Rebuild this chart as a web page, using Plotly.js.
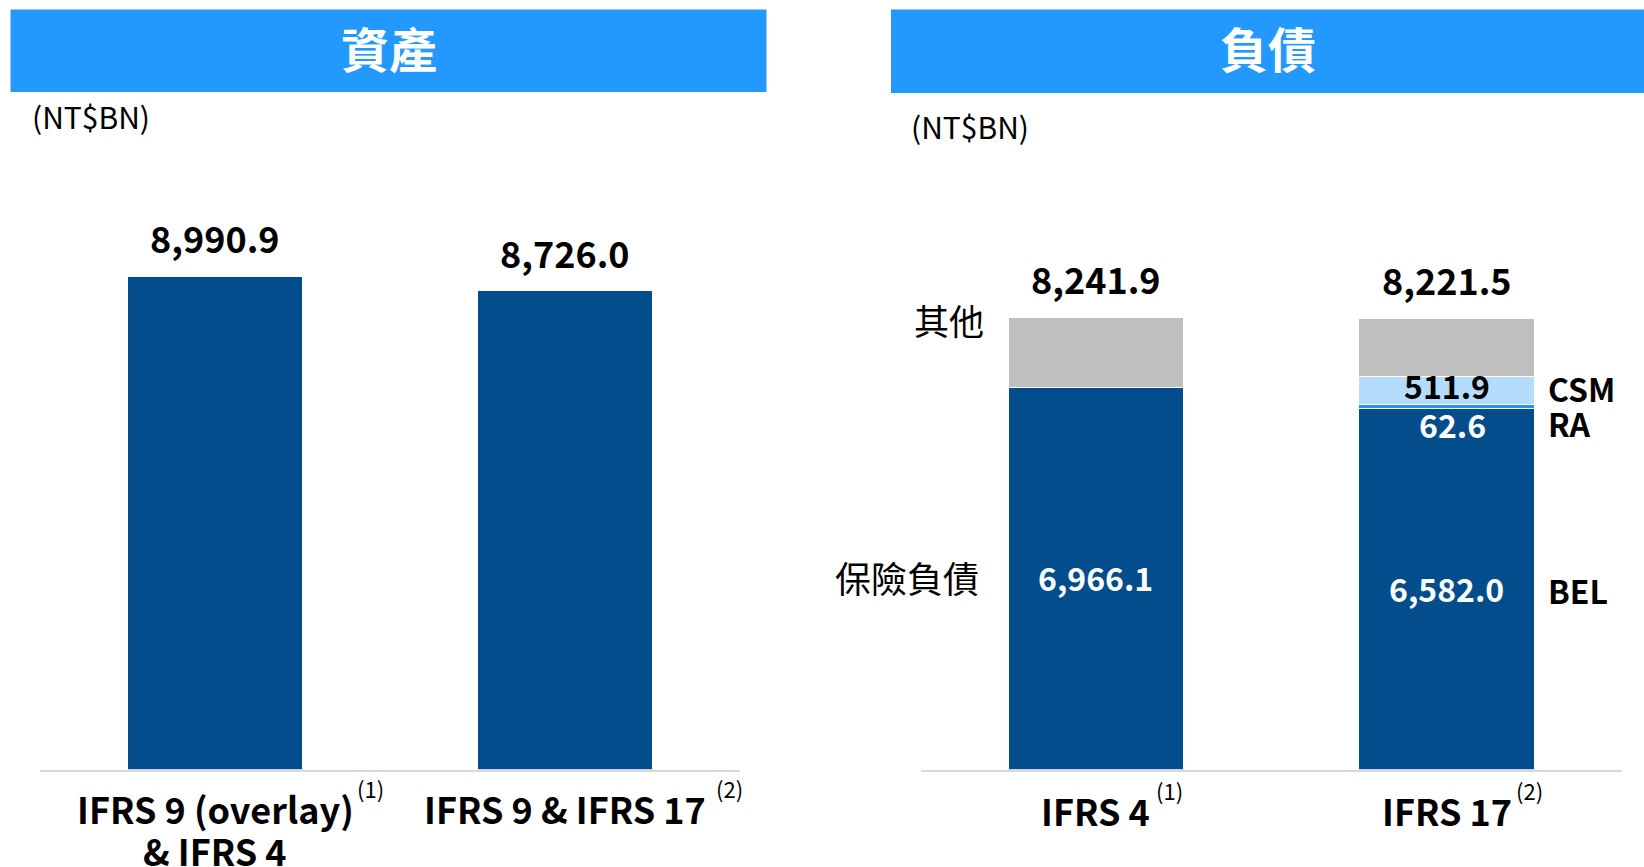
<!DOCTYPE html>
<html>
<head>
<meta charset="utf-8">
<script src="https://cdn.plot.ly/plotly-3.0.1.min.js"></script>
<style>
  html, body { margin: 0; padding: 0; background: #ffffff; }
  #chart { width: 1644px; height: 867px; }
</style>
</head>
<body>
<div id="chart"></div>
<script>
// ---------- data ----------
const panelTitles = ['資產', '負債'];
const unitLabel = '(NT$BN)';

const assetCategories = ['IFRS 9 (overlay) & IFRS 4', 'IFRS 9 & IFRS 17'];
const assetTickLabels = [['IFRS 9 (overlay)', '& IFRS 4'], ['IFRS 9 & IFRS 17']];
const assetNotes = ['(1)', '(2)'];
const assetValues = [8990.9, 8726.0];

const liabCategories = ['IFRS 4', 'IFRS 17'];
const liabTickLabels = ['IFRS 4', 'IFRS 17'];
const liabNotes = ['(1)', '(2)'];
const liabTotals = [8241.9, 8221.5];
const liabBEL = [6966.1, 6582.0];
const liabRA = [null, 62.6];
const liabCSM = [null, 511.9];
const liabOther = [1275.8, 1065.0];

const segmentNames = ['BEL', 'RA', 'CSM', '其他'];
const sideLabelsLeft = ['其他', '保險負債'];
const sideLabelsRight = ['CSM', 'RA', 'BEL'];

// ---------- styling ----------
const W = 1644, H = 867;
const FONT = "'Noto Sans CJK TC', 'Noto Sans', sans-serif";
const DARK = '#044D8C';
const GRAY = '#BFBFBF';
const LIGHT = '#B5DCFB';
const RACOL = '#2196F3';
const HEAD = '#2399FE';

const px = x => x / W;
const py = y => 1 - y / H;
const fmt = v => v.toLocaleString('en-US', {minimumFractionDigits: 1, maximumFractionDigits: 1});

const barLine = {color: '#ffffff', width: 1};

const traces = [
  {type: 'bar', x: assetCategories, y: assetValues, xaxis: 'x', yaxis: 'y',
   marker: {color: DARK, line: barLine}, hoverinfo: 'skip', showlegend: false},
  {type: 'bar', name: segmentNames[0], x: liabCategories, y: liabBEL, xaxis: 'x2', yaxis: 'y2',
   marker: {color: DARK, line: barLine}, hoverinfo: 'skip', showlegend: false},
  {type: 'bar', name: segmentNames[1], x: liabCategories, y: liabRA, xaxis: 'x2', yaxis: 'y2',
   marker: {color: RACOL, line: barLine}, hoverinfo: 'skip', showlegend: false},
  {type: 'bar', name: segmentNames[2], x: liabCategories, y: liabCSM, xaxis: 'x2', yaxis: 'y2',
   marker: {color: LIGHT, line: barLine}, hoverinfo: 'skip', showlegend: false},
  {type: 'bar', name: segmentNames[3], x: liabCategories, y: liabOther, xaxis: 'x2', yaxis: 'y2',
   marker: {color: GRAY, line: barLine}, hoverinfo: 'skip', showlegend: false}
];

const annotations = [];
const shapes = [];

// headers
shapes.push({type: 'rect', xref: 'paper', yref: 'paper', x0: px(10.5), x1: px(766.5), y0: py(92), y1: py(9.5),
             fillcolor: HEAD, line: {width: 0}, layer: 'below'});
shapes.push({type: 'rect', xref: 'paper', yref: 'paper', x0: px(891), x1: px(1644), y0: py(93), y1: py(9.5),
             fillcolor: HEAD, line: {width: 0}, layer: 'below'});
annotations.push({xref: 'paper', yref: 'paper', x: px(388.5), y: py(47), text: '<b>' + panelTitles[0] + '</b>',
                  showarrow: false, xanchor: 'center', yanchor: 'middle', font: {family: FONT, size: 48, color: '#ffffff'}});
annotations.push({xref: 'paper', yref: 'paper', x: px(1268), y: py(47), text: '<b>' + panelTitles[1] + '</b>',
                  showarrow: false, xanchor: 'center', yanchor: 'middle', font: {family: FONT, size: 48, color: '#ffffff'}});

// units
annotations.push({xref: 'paper', yref: 'paper', x: px(30), y: py(116), text: unitLabel, showarrow: false,
                  xanchor: 'left', yanchor: 'middle', font: {family: FONT, size: 30, color: '#000000'}});
annotations.push({xref: 'paper', yref: 'paper', x: px(909), y: py(126), text: unitLabel, showarrow: false,
                  xanchor: 'left', yanchor: 'middle', font: {family: FONT, size: 30, color: '#000000'}});

// totals above bars
const totFont = {family: FONT, size: 36, color: '#000000'};
assetCategories.forEach((c, i) => {
  annotations.push({xref: 'x', yref: 'y', x: c, y: assetValues[i], yshift: 39, text: '<b>' + fmt(assetValues[i]) + '</b>',
                    showarrow: false, xanchor: 'center', yanchor: 'middle', font: totFont});
});
liabCategories.forEach((c, i) => {
  annotations.push({xref: 'x2', yref: 'y2', x: c, y: liabTotals[i], yshift: 39, text: '<b>' + fmt(liabTotals[i]) + '</b>',
                    showarrow: false, xanchor: 'center', yanchor: 'middle', font: totFont});
});

// segment values
const segFontW = {family: FONT, size: 32, color: '#ffffff'};
const segFontB = {family: FONT, size: 32, color: '#000000'};
liabCategories.forEach((c, i) => {
  annotations.push({xref: 'x2', yref: 'y2', x: c, y: liabBEL[i] / 2, yshift: 1, text: '<b>' + fmt(liabBEL[i]) + '</b>',
                    showarrow: false, xanchor: 'center', yanchor: 'middle', font: segFontW});
  if (liabCSM[i] != null) {
    annotations.push({xref: 'x2', yref: 'y2', x: c, y: liabBEL[i] + liabRA[i] + liabCSM[i] / 2, yshift: 6,
                      text: '<b>' + fmt(liabCSM[i]) + '</b>', showarrow: false, xanchor: 'center', yanchor: 'middle',
                      font: segFontB});
  }
  if (liabRA[i] != null) {
    annotations.push({xref: 'x2', yref: 'y2', x: c, y: liabBEL[i] + liabRA[i] / 2, yshift: -17, xshift: 6,
                      text: '<b>' + fmt(liabRA[i]) + '</b>', showarrow: false, xanchor: 'center', yanchor: 'middle',
                      font: segFontW});
  }
});

// side labels
annotations.push({xref: 'paper', yref: 'paper', x: px(986), y: py(320), text: sideLabelsLeft[0], showarrow: false,
                  xanchor: 'right', yanchor: 'middle', font: {family: FONT, size: 35, color: '#000000'}});
annotations.push({xref: 'paper', yref: 'paper', x: px(981), y: py(577), text: sideLabelsLeft[1], showarrow: false,
                  xanchor: 'right', yanchor: 'middle', font: {family: FONT, size: 36, color: '#000000'}});
const rightY = [388, 423, 590];
sideLabelsRight.forEach((t, i) => {
  annotations.push({xref: 'paper', yref: 'paper', x: px(1546), y: py(rightY[i]), text: '<b>' + t + '</b>', showarrow: false,
                    xanchor: 'left', yanchor: 'middle', font: {family: FONT, size: 32, color: '#000000'}});
});

// category labels + notes
const catFont = {family: FONT, size: 36, color: '#000000'};
const noteFont = {family: FONT, size: 22, color: '#000000'};
const lineY = [808, 850];
assetCategories.forEach((c, i) => {
  assetTickLabels[i].forEach((t, j) => {
    annotations.push({xref: 'x', yref: 'paper', x: c, y: py(lineY[j]), text: '<b>' + t + '</b>',
                      showarrow: false, xanchor: 'center', yanchor: 'middle', font: catFont});
  });
});
liabCategories.forEach((c, i) => {
  annotations.push({xref: 'x2', yref: 'paper', x: c, y: py(810), text: '<b>' + liabTickLabels[i] + '</b>',
                    showarrow: false, xanchor: 'center', yanchor: 'middle', font: catFont});
});
const noteShiftA = [140, 149];
const noteShiftL = [58, 67];
assetCategories.forEach((c, i) => {
  annotations.push({xref: 'x', yref: 'paper', x: c, xshift: noteShiftA[i], y: py(788), text: assetNotes[i],
                    showarrow: false, xanchor: 'left', yanchor: 'middle', font: noteFont});
});
liabCategories.forEach((c, i) => {
  annotations.push({xref: 'x2', yref: 'paper', x: c, xshift: noteShiftL[i], y: py(790), text: liabNotes[i],
                    showarrow: false, xanchor: 'left', yanchor: 'middle', font: noteFont});
});

const yDomain = [py(769.6), py(220.8)];
const layout = {
  width: W, height: H, autosize: false,
  margin: {l: 0, r: 0, t: 0, b: 0, pad: 0},
  paper_bgcolor: '#ffffff', plot_bgcolor: 'rgba(0,0,0,0)',
  barmode: 'stack', bargap: 0.5,
  showlegend: false,
  xaxis: {domain: [px(40), px(740)], type: 'category', range: [-0.5, 1.5], showticklabels: false, ticks: '',
          showline: true, linecolor: '#D9D9D9', linewidth: 2, showgrid: false, zeroline: false, fixedrange: true},
  yaxis: {domain: yDomain, range: [0, 10000], visible: false, fixedrange: true},
  xaxis2: {domain: [px(920.5), px(1622)], type: 'category', range: [-0.5, 1.5], showticklabels: false, ticks: '',
           showline: true, linecolor: '#D9D9D9', linewidth: 2, showgrid: false, zeroline: false, anchor: 'y2', fixedrange: true},
  yaxis2: {domain: yDomain, range: [0, 10000], visible: false, anchor: 'x2', fixedrange: true},
  shapes: shapes,
  annotations: annotations
};

Plotly.newPlot('chart', traces, layout, {displayModeBar: false, staticPlot: true});
</script>
</body>
</html>
